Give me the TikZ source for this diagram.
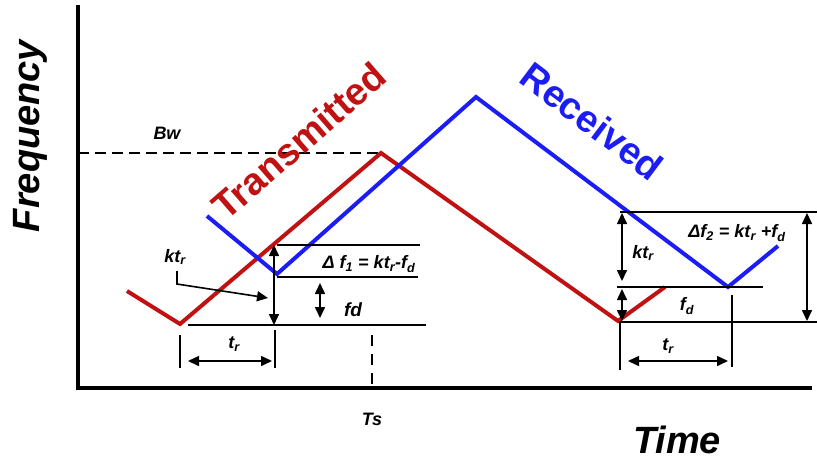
\documentclass[tikz,border=0pt]{standalone}
\usepackage{fontspec}
\setmainfont{Liberation Sans}
\usetikzlibrary{arrows.meta, positioning, calc}
\definecolor{txred}{RGB}{192,18,18}
\definecolor{rxblue}{RGB}{28,28,245}

\begin{document}
\begin{tikzpicture}[x=1pt, y=-1pt,
  dim/.style={black, line width=1.6pt},
  dimarrow/.style={dim, {Triangle[width=10pt,length=11pt]}-{Triangle[width=10pt,length=11pt]}},
  lbl/.style={font=\bfseries\itshape\fontsize{18}{18}\selectfont, inner sep=0pt},
  big/.style={font=\bfseries\itshape\fontsize{38}{38}\selectfont, inner sep=0pt}]
  \useasboundingbox (0,0) rectangle (817,461);
  % axes
  \coordinate (top) at (78,5);
  \coordinate (o) at (78,388);
  \coordinate (right) at (812,388);
  \draw[line width=3.6pt] (top) -- (o) -- (right);
  \node[big, rotate=90] (freq) at (30,136) {Frequency};
  \node[big] (time) at (677,440) {Time};
  % bandwidth
  \coordinate (bw0) at (78,153);
  \coordinate (bw1) at (378,153);
  \draw[dim, dash pattern=on 11pt off 6pt] (bw0) -- (bw1);
  \node[lbl] (bw) at (167,133) {Bw};
  % sweeps
  \coordinate (t0) at (127,291); \coordinate (t1) at (180,324); \coordinate (t2) at (381,153);
  \coordinate (t3) at (618,321); \coordinate (t4) at (665,287);
  \coordinate (r0) at (207,216); \coordinate (r1) at (277,274); \coordinate (r2) at (476,97);
  \coordinate (r3) at (728,287); \coordinate (r4) at (778,246);
  \draw[txred, line width=4pt] (t0) -- (t1) -- (t2) -- (t3) -- (t4);
  \draw[rxblue, line width=4pt] (r0) -- (r1) -- (r2) -- (r3) -- (r4);
  \node[big, txred, font=\bfseries\fontsize{38}{38}\selectfont, rotate=41] (tx) at (299,141) {Transmitted};
  \node[big, rxblue, font=\bfseries\fontsize{38}{38}\selectfont, rotate=-37] (rx) at (592,121) {Received};
  % left detail
  \draw[dim] (277,245) -- (420,245);
  \draw[dim] (277,277) -- (418,277);
  \draw[dim] (188,325) -- (426,325);
  \draw[dimarrow] (274,245) -- (274,325);
  \draw[dimarrow] (320,283) -- (320,318);
  \node[lbl] (df1) at (369,264) {Δ f\textsubscript{1} = kt\textsubscript{r}-f\textsubscript{d}};
  \node[lbl, font=\bfseries\itshape\fontsize{19}{19}\selectfont] (fdl) at (353,310) {fd};
  \node[lbl] (ktl) at (175,257) {kt\textsubscript{r}};
  \draw[dim, -{Triangle[width=10pt,length=11pt]}] ($(ktl.south)+(2,6)$) -- ++(0,13) -- (268,298);
  \draw[dim] (180,335) -- (180,368);
  \draw[dim] (275,330) -- (275,368);
  \draw[dimarrow] (188,361) -- (272,361);
  \node[lbl] (trl) at (234,344) {t\textsubscript{r}};
  \draw[dim, dash pattern=on 11pt off 8pt] (372,335) -- (372,384);
  \node[lbl] (ts) at (372,419) {Ts};
  % right detail
  \draw[dim] (620,212) -- (817,212);
  \draw[dim] (617,287) -- (763,287);
  \draw[dim] (620,322) -- (817,322);
  \draw[dimarrow] (622,213) -- (622,281);
  \draw[dimarrow] (622,289) -- (622,321);
  \draw[dimarrow] (807,213) -- (807,321);
  \node[lbl] (ktr) at (643,253) {kt\textsubscript{r}};
  \node[lbl] (fdr) at (687,306) {f\textsubscript{d}};
  \node[lbl] (df2) at (737,233) {Δf\textsubscript{2} = kt\textsubscript{r} +f\textsubscript{d}};
  \draw[dim] (620,322) -- (620,370);
  \draw[dim] (732,295) -- (732,367);
  \draw[dimarrow] (628,361) -- (728,361);
  \node[lbl] (trr) at (668,346) {t\textsubscript{r}};
\end{tikzpicture}
\end{document}
